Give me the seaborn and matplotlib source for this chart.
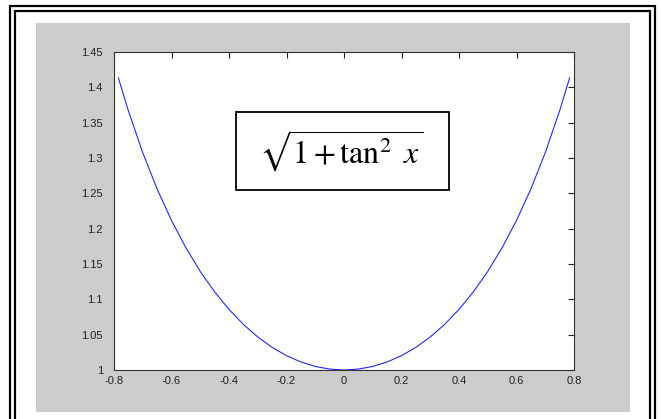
import matplotlib
matplotlib.use("Agg")
import matplotlib.pyplot as plt
from matplotlib.patches import Rectangle
import pandas as pd
import seaborn as sns

# sampled values of sqrt(1 + tan^2 x) over [-pi/4, pi/4]
x_vals = [-0.785, -0.75, -0.70, -0.65, -0.60, -0.55, -0.50, -0.45, -0.40,
          -0.35, -0.30, -0.25, -0.20, -0.15, -0.10, -0.05, 0.0,
          0.05, 0.10, 0.15, 0.20, 0.25, 0.30, 0.35, 0.40,
          0.45, 0.50, 0.55, 0.60, 0.65, 0.70, 0.75, 0.785]
y_vals = [1.4137, 1.3667, 1.3075, 1.2562, 1.2116, 1.1730, 1.1395, 1.1106, 1.0857,
          1.0645, 1.0468, 1.0321, 1.0203, 1.0114, 1.0050, 1.0013, 1.0000,
          1.0013, 1.0050, 1.0114, 1.0203, 1.0321, 1.0468, 1.0645, 1.0857,
          1.1106, 1.1395, 1.1730, 1.2116, 1.2562, 1.3075, 1.3667, 1.4137]

x_ticks = [-0.8, -0.6, -0.4, -0.2, 0, 0.2, 0.4, 0.6, 0.8]
x_tick_labels = ["-0.8", "-0.6", "-0.4", "-0.2", "0", "0.2", "0.4", "0.6", "0.8"]
y_ticks = [1.0, 1.05, 1.1, 1.15, 1.2, 1.25, 1.3, 1.35, 1.4, 1.45]
y_tick_labels = ["1", "1.05", "1.1", "1.15", "1.2", "1.25", "1.3", "1.35", "1.4", "1.45"]
formula = r"$\sqrt{1+\tan^{2}\ x}$"

df = pd.DataFrame({"x": x_vals, "y": y_vals})

sns.set_style("white")
plt.rcParams["font.family"] = ["Liberation Sans", "DejaVu Sans"]
plt.rcParams["mathtext.fontset"] = "stix"

W, H = 661, 419
fig = plt.figure(figsize=(W / 100, H / 100), dpi=100)
fig.patch.set_facecolor("white")


def fx(px):
    return px / W


def fy(py):
    return 1 - py / H


# grey figure panel
fig.patches.append(Rectangle((fx(36), fy(412)), fx(630) - fx(36), fy(23) - fy(412),
                             transform=fig.transFigure, facecolor="#cccccc",
                             edgecolor="none", zorder=-2))
# double border around the page
for left, right, top in [(10, 655, 6), (15, 650, 11.5)]:
    fig.patches.append(Rectangle((fx(left), fy(440)), fx(right) - fx(left), fy(top) - fy(440),
                                 transform=fig.transFigure, facecolor="none",
                                 edgecolor="black", linewidth=1.6, zorder=-1))

ax = fig.add_axes([fx(114), fy(370), fx(574) - fx(114), fy(52) - fy(370)])
ax.set_zorder(5)
ax.set_facecolor("white")

sns.lineplot(data=df, x="x", y="y", ax=ax, color="#1a1aff", linewidth=0.75,
             sort=False, estimator=None)

ax.set_xlim(-0.8, 0.8)
ax.set_ylim(1.0, 1.45)
ax.set_xticks(x_ticks)
ax.set_xticklabels(x_tick_labels)
ax.set_yticks(y_ticks)
ax.set_yticklabels(y_tick_labels)
ax.set_xlabel("")
ax.set_ylabel("")
ax.tick_params(direction="in", length=4.5, width=0.8, colors="#222222",
               labelsize=8, top=True, right=True, pad=4)
ax.tick_params(axis="y", pad=8)
for s in ax.spines.values():
    s.set_visible(True)
    s.set_color("#333333")
    s.set_linewidth(0.8)

# boxed formula
ax.add_patch(Rectangle((0.265, 0.566), 0.728 - 0.265, 0.811 - 0.566,
                       transform=ax.transAxes, facecolor="white",
                       edgecolor="black", linewidth=1.3, zorder=3))
ax.text(0.4935, 0.688, formula, transform=ax.transAxes, ha="center", va="center",
        fontsize=23, color="black", zorder=4)

fig.savefig("out.png", dpi=100, facecolor="white")
